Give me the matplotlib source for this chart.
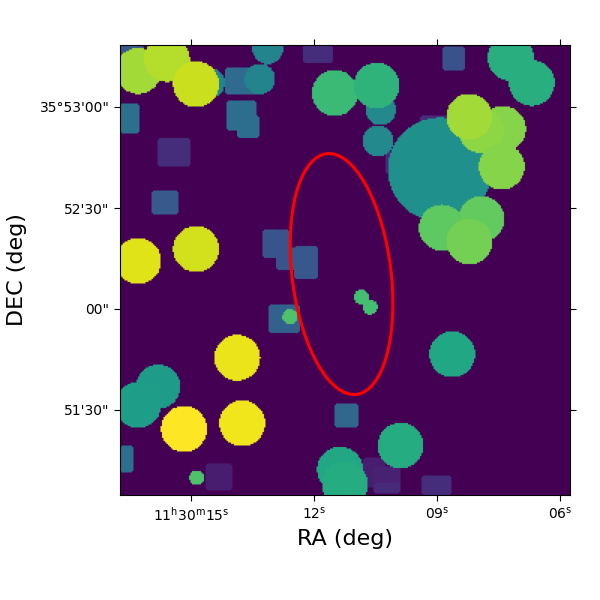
import numpy as np
import matplotlib
matplotlib.use("Agg")
import matplotlib.pyplot as plt
from matplotlib.patches import Ellipse

# segmentation map sources, in image pixels
circle_x = [60, 12.2, 31.3, 50.7, 93.3, 98.5, 143.3, 173.8, 171.1, 172, 260.5, 274.5,
            213.3, 255.3, 240.7, 232.9, 254.5, 241.1, 214.5, 232.9, 12.2, 50.7, 113.3,
            160.9, 166.7, 78.2, 81.5, 42.7, 25.5, 12.2, 51.1, 146.7, 150, 187.1, 221.5]
circle_y = [25.3, 17.3, 9.3, 26.2, 22.7, 2.5, 32, 43.3, 27.1, 64, 8.5, 25.3,
            83.1, 56, 56.7, 47.8, 81.1, 116, 121.8, 131.1, 144, 136, 181.1,
            168, 174.7, 208.5, 252.2, 256, 227.8, 240, 288.5, 283.1, 293.1, 267.1, 206.2]
circle_r = [10, 15.3, 15.3, 15.3, 10.2, 10.2, 15.3, 10.2, 15.3, 10.2, 15.3, 15.3,
            34.7, 15.3, 15.3, 15.3, 15.3, 15.3, 15.3, 15.3, 15.3, 15.3, 5,
            5, 5, 15.3, 15.3, 15.3, 14.7, 15.3, 5, 15.3, 15.3, 15.3, 15.3]
circle_val = [0.45, 0.86, 0.89, 0.92, 0.45, 0.45, 0.68, 0.47, 0.65, 0.47, 0.63, 0.63,
              0.5, 0.82, 0.83, 0.86, 0.82, 0.76, 0.75, 0.79, 0.95, 0.93, 0.72,
              0.7, 0.7, 0.97, 0.98, 1.0, 0.55, 0.56, 0.72, 0.6, 0.62, 0.62, 0.6]

box_x0 = [70, 0, 71, 78, 25, 21, 95, 104, 116, 122, 215, 200, 177, 99, 0, 143, 57, 162, 169, 169, 201, 0]
box_x1 = [92, 13, 91, 93, 47, 39, 113, 122, 132, 142, 230, 220, 193, 120, 9, 159, 75, 177, 187, 187, 221, 16]
box_y0 = [15, 39, 37, 47, 62, 97, 123, 135, 134, 0, 1, 47, 71, 173, 267, 239, 279, 275, 281, 292, 287, 0]
box_y1 = [33, 59, 57, 62, 81, 113, 142, 150, 156, 12, 17, 57, 86, 192, 285, 255, 297, 295, 299, 299, 300, 6]
box_val = [0.35, 0.37, 0.36, 0.36, 0.13, 0.28, 0.26, 0.26, 0.27, 0.13, 0.25, 0.12, 0.12,
           0.31, 0.36, 0.33, 0.08, 0.08, 0.09, 0.12, 0.13, 0.28]

# aperture ellipse
ell_x, ell_y = 147.7, 152.7
ell_major, ell_minor, ell_angle = 161.7, 66.0, 82.9

# WCS style ticks
ra_ticks = [47.3, 129.3, 211.3, 293.3]
ra_labels = ["11$^{\\mathrm{h}}$30$^{\\mathrm{m}}$15$^{\\mathrm{s}}$",
             "12$^{\\mathrm{s}}$", "09$^{\\mathrm{s}}$", "06$^{\\mathrm{s}}$"]
dec_ticks = [41.3, 108.7, 176, 243.3]
dec_labels = ["35\u00b053'00\"", "52'30\"", "00\"", "51'30\""]

N = 300


def build_map():
    yy, xx = np.mgrid[0:N, 0:N] + 0.5
    img = np.zeros((N, N))
    corner = 2.5
    for x0, x1, y0, y1, v in zip(box_x0, box_x1, box_y0, box_y1, box_val):
        dx = np.maximum(np.maximum(x0 + corner - xx, xx - x1 + corner), 0)
        dy = np.maximum(np.maximum(y0 + corner - yy, yy - y1 + corner), 0)
        img[dx**2 + dy**2 <= corner**2] = v
    for x, y, r, v in zip(circle_x, circle_y, circle_r, circle_val):
        img[(xx - x)**2 + (yy - y)**2 <= r**2] = v
    return img


def main():
    fig = plt.figure(figsize=(6, 6), dpi=100)
    ax = fig.add_axes([0.2, 0.175, 0.75, 0.75])

    ax.imshow(build_map(), cmap="viridis", vmin=0, vmax=1,
              extent=[0, N, N, 0], aspect="equal")
    ax.add_patch(Ellipse((ell_x, ell_y), ell_major, ell_minor, angle=ell_angle,
                         fill=False, edgecolor="red", linewidth=2.2))

    ax.set_xticks(ra_ticks)
    ax.set_xticklabels(ra_labels)
    ax.set_yticks(dec_ticks)
    ax.set_yticklabels(dec_labels)
    ax.tick_params(top=True, right=True, direction="out", length=4)
    ax.set_xlabel("RA (deg)", fontsize=16)
    ax.set_ylabel("DEC (deg)", fontsize=16, labelpad=9)

    fig.savefig("out.png", dpi=100)


if __name__ == "__main__":
    main()
